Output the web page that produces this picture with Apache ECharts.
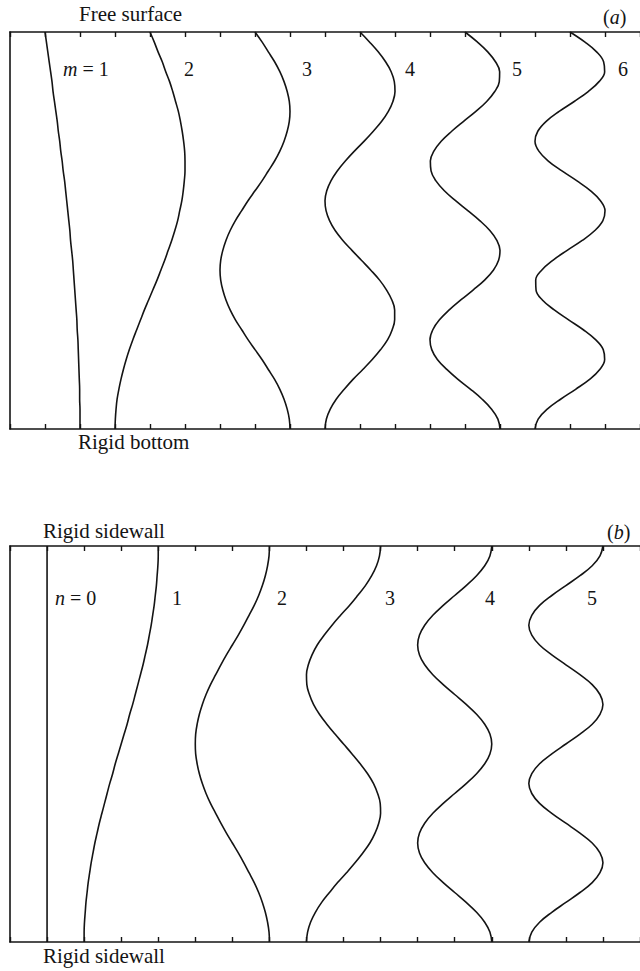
<!DOCTYPE html>
<html>
<head>
<meta charset="utf-8">
<script src="https://cdn.jsdelivr.net/npm/echarts@6/dist/echarts.min.js"></script>
<style>
html,body{margin:0;padding:0;background:#fff;}
#chart{width:640px;height:971px;}
</style>
</head>
<body>
<div id="chart"></div>
<script>
// Depth (0 = bottom of panel, 1 = top of panel)
const depth = [0, 0.025, 0.05, 0.075, 0.1, 0.125, 0.15, 0.175, 0.2, 0.225, 0.25, 0.275, 0.3, 0.325, 0.35, 0.375, 0.4, 0.425, 0.45, 0.475, 0.5, 0.525, 0.55, 0.575, 0.6, 0.625, 0.65, 0.675, 0.7, 0.725, 0.75, 0.775, 0.8, 0.825, 0.85, 0.875, 0.9, 0.925, 0.95, 0.975, 1];

// Panel (a): vertical modes m = 1..6 (horizontal position, tick units)
const modeA1 = [2.00, 2.00, 2.00, 1.99, 1.99, 1.98, 1.97, 1.96, 1.95, 1.94, 1.92, 1.91, 1.89, 1.87, 1.85, 1.83, 1.81, 1.79, 1.76, 1.73, 1.71, 1.68, 1.65, 1.62, 1.59, 1.56, 1.52, 1.49, 1.45, 1.42, 1.38, 1.35, 1.31, 1.27, 1.23, 1.20, 1.16, 1.12, 1.08, 1.04, 1.00];
const modeA2 = [3.00, 3.01, 3.03, 3.06, 3.11, 3.17, 3.24, 3.32, 3.41, 3.51, 3.62, 3.73, 3.84, 3.96, 4.08, 4.20, 4.31, 4.42, 4.52, 4.62, 4.71, 4.79, 4.85, 4.91, 4.95, 4.98, 5.00, 5.00, 4.99, 4.96, 4.92, 4.87, 4.81, 4.73, 4.65, 4.56, 4.45, 4.35, 4.23, 4.12, 4.00];
const modeA3 = [8.00, 7.98, 7.92, 7.83, 7.71, 7.56, 7.38, 7.20, 7.00, 6.80, 6.62, 6.44, 6.29, 6.17, 6.08, 6.02, 6.00, 6.02, 6.08, 6.17, 6.29, 6.44, 6.62, 6.80, 7.00, 7.20, 7.38, 7.56, 7.71, 7.83, 7.92, 7.98, 8.00, 7.98, 7.92, 7.83, 7.71, 7.56, 7.38, 7.20, 7.00];
const modeA4 = [9.00, 9.04, 9.15, 9.32, 9.55, 9.80, 10.08, 10.35, 10.59, 10.79, 10.92, 10.99, 10.99, 10.91, 10.76, 10.56, 10.31, 10.04, 9.77, 9.51, 9.29, 9.13, 9.03, 9.00, 9.05, 9.17, 9.35, 9.58, 9.84, 10.12, 10.38, 10.62, 10.81, 10.94, 11.00, 10.98, 10.89, 10.73, 10.52, 10.27, 10.00];
const modeA5 = [14.00, 13.94, 13.76, 13.49, 13.16, 12.80, 12.48, 12.21, 12.05, 12.00, 12.08, 12.27, 12.55, 12.88, 13.23, 13.56, 13.81, 13.96, 14.00, 13.91, 13.71, 13.42, 13.08, 12.73, 12.41, 12.17, 12.03, 12.01, 12.11, 12.32, 12.62, 12.96, 13.31, 13.62, 13.85, 13.98, 13.99, 13.87, 13.65, 13.35, 13.00];
const modeA6 = [15.00, 15.09, 15.35, 15.73, 16.16, 16.56, 16.85, 16.99, 16.95, 16.73, 16.38, 15.96, 15.55, 15.21, 15.03, 15.02, 15.19, 15.51, 15.92, 16.35, 16.71, 16.94, 17.00, 16.87, 16.59, 16.20, 15.77, 15.38, 15.11, 15.00, 15.08, 15.32, 15.69, 16.12, 16.52, 16.83, 16.99, 16.96, 16.76, 16.42, 16.00];

// Panel (b): lateral modes n = 0..5
const modeB0 = [1, 1, 1, 1, 1, 1, 1, 1, 1, 1, 1, 1, 1, 1, 1, 1, 1, 1, 1, 1, 1, 1, 1, 1, 1, 1, 1, 1, 1, 1, 1, 1, 1, 1, 1, 1, 1, 1, 1, 1, 1];
const modeB1 = [2.00, 2.00, 2.01, 2.03, 2.05, 2.08, 2.11, 2.15, 2.19, 2.24, 2.29, 2.35, 2.41, 2.48, 2.55, 2.62, 2.69, 2.77, 2.84, 2.92, 3.00, 3.08, 3.16, 3.23, 3.31, 3.38, 3.45, 3.52, 3.59, 3.65, 3.71, 3.76, 3.81, 3.85, 3.89, 3.92, 3.95, 3.97, 3.99, 4.00, 4.00];
const modeB2 = [7.00, 6.99, 6.95, 6.89, 6.81, 6.71, 6.59, 6.45, 6.31, 6.16, 6.00, 5.84, 5.69, 5.55, 5.41, 5.29, 5.19, 5.11, 5.05, 5.01, 5.00, 5.01, 5.05, 5.11, 5.19, 5.29, 5.41, 5.55, 5.69, 5.84, 6.00, 6.16, 6.31, 6.45, 6.59, 6.71, 6.81, 6.89, 6.95, 6.99, 7.00];
const modeB3 = [8.00, 8.03, 8.11, 8.24, 8.41, 8.62, 8.84, 9.08, 9.31, 9.52, 9.71, 9.85, 9.95, 10.00, 9.99, 9.92, 9.81, 9.65, 9.45, 9.23, 9.00, 8.77, 8.55, 8.35, 8.19, 8.08, 8.01, 8.00, 8.05, 8.15, 8.29, 8.48, 8.69, 8.92, 9.16, 9.38, 9.59, 9.76, 9.89, 9.97, 10.00];
const modeB4 = [13.00, 12.95, 12.81, 12.59, 12.31, 12.00, 11.69, 11.41, 11.19, 11.05, 11.00, 11.05, 11.19, 11.41, 11.69, 12.00, 12.31, 12.59, 12.81, 12.95, 13.00, 12.95, 12.81, 12.59, 12.31, 12.00, 11.69, 11.41, 11.19, 11.05, 11.00, 11.05, 11.19, 11.41, 11.69, 12.00, 12.31, 12.59, 12.81, 12.95, 13.00];
const modeB5 = [14.00, 14.08, 14.29, 14.62, 15.00, 15.38, 15.71, 15.92, 16.00, 15.92, 15.71, 15.38, 15.00, 14.62, 14.29, 14.08, 14.00, 14.08, 14.29, 14.62, 15.00, 15.38, 15.71, 15.92, 16.00, 15.92, 15.71, 15.38, 15.00, 14.62, 14.29, 14.08, 14.00, 14.08, 14.29, 14.62, 15.00, 15.38, 15.71, 15.92, 16.00];

const panelAModes = [modeA1, modeA2, modeA3, modeA4, modeA5, modeA6];
const panelBModes = [modeB0, modeB1, modeB2, modeB3, modeB4, modeB5];
const panelAWidthUnits = 18;
const panelBWidthUnits = 17;

const INK = '#141414';
const FONT = '"Liberation Serif", "Times New Roman", serif';

function pairs(xs) { return xs.map((x, i) => [x, depth[i]]); }

function xAx(grid, max, pos) {
  return {
    gridIndex: grid, type: 'value', min: 0, max: max, interval: 1, position: pos,
    axisLine: { show: true, onZero: false, lineStyle: { color: INK, width: 1.6 } },
    axisTick: { show: true, inside: true, length: 5, lineStyle: { color: INK, width: 1.4 } },
    axisLabel: { show: false }, splitLine: { show: false }
  };
}
function yAx(grid) {
  return {
    gridIndex: grid, type: 'value', min: 0, max: 1,
    axisLine: { show: true, onZero: false, lineStyle: { color: INK, width: 1.6 } },
    axisTick: { show: false }, axisLabel: { show: false }, splitLine: { show: false }
  };
}

const series = [];
panelAModes.forEach(xs => series.push({
  type: 'line', xAxisIndex: 0, yAxisIndex: 0, data: pairs(xs),
  showSymbol: false, smooth: 0.4, lineStyle: { color: INK, width: 1.6 }, silent: true
}));
panelBModes.forEach(xs => series.push({
  type: 'line', xAxisIndex: 2, yAxisIndex: 1, data: pairs(xs),
  showSymbol: false, smooth: 0.4, lineStyle: { color: INK, width: 1.6 }, silent: true
}));

function txt(text, x, y, size, rich) {
  const st = { text: text, fontSize: size, fontFamily: FONT, fill: INK, align: 'left', verticalAlign: 'middle' };
  if (rich) st.rich = rich;
  return { type: 'text', x: x, y: y, style: st };
}
const it = { i: { fontStyle: 'italic', fontSize: 20, fontFamily: FONT, fill: INK } };

const graphics = [
  txt('Free surface', 79, 14, 21),
  txt('({i|a})', 603, 17, 20, it),
  txt('{i|m} = 1', 63, 69, 20, it),
  txt('2', 184, 69, 20), txt('3', 302, 69, 20), txt('4', 405, 69, 20),
  txt('5', 512, 69, 20), txt('6', 618, 69, 20),
  txt('Rigid bottom', 78, 442, 21),
  txt('Rigid sidewall', 43, 531, 21),
  txt('({i|b})', 607, 532, 20, it),
  txt('{i|n} = 0', 55, 598, 20, it),
  txt('1', 172, 598, 20), txt('2', 277, 598, 20), txt('3', 385, 598, 20),
  txt('4', 485, 598, 20), txt('5', 587, 598, 20),
  txt('Rigid sidewall', 43, 956, 21)
];

const chart = echarts.init(document.getElementById('chart'), null, { renderer: 'svg' });
chart.setOption({
  animation: false,
  backgroundColor: '#fff',
  grid: [
    { left: 10, top: 32, width: 636, height: 397 },
    { left: 10, top: 546, width: 637, height: 396 }
  ],
  xAxis: [xAx(0, panelAWidthUnits, 'top'), xAx(0, panelAWidthUnits, 'bottom'),
          xAx(1, panelBWidthUnits, 'top'), xAx(1, panelBWidthUnits, 'bottom')],
  yAxis: [yAx(0), yAx(1)],
  series: series,
  graphic: graphics
});
</script>
</body>
</html>
